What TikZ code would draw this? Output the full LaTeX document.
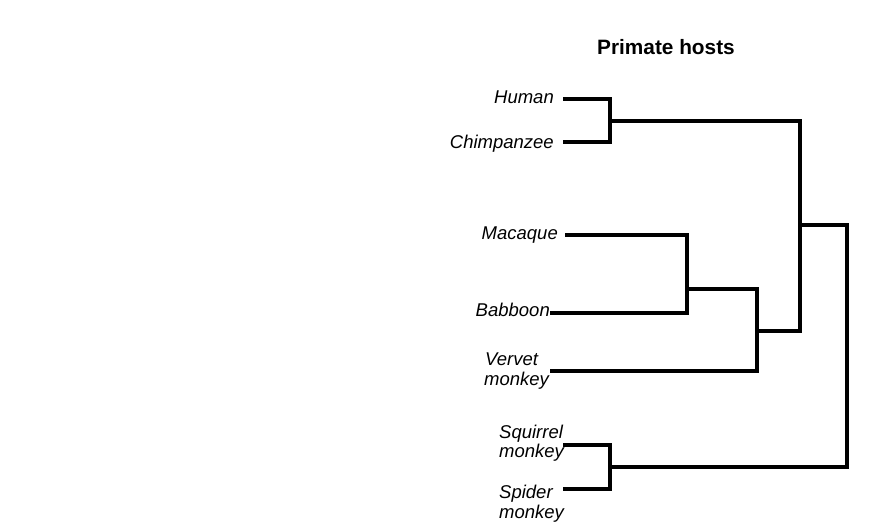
\documentclass[tikz,border=0pt]{standalone}
\usepackage{fontspec}
\setmainfont{Liberation Sans}
\begin{document}
\begin{tikzpicture}[x=1pt,y=-1pt,
  leaf/.style={inner sep=0pt,font=\fontsize{18.5}{21}\selectfont\itshape},
  title/.style={inner sep=0pt,font=\fontsize{20.8}{24}\selectfont\bfseries},
  branch/.style={line width=4.5pt,line join=miter,line cap=butt}]
\useasboundingbox (0,0) rectangle (882,530);
\node[title,anchor=base] (title) at (666,54) {Primate hosts};
% leaf labels
\node[leaf,anchor=base east] (human) at (554,103) {Human};
\node[leaf,anchor=base east] (chimp) at (554,148) {Chimpanzee};
\node[leaf,anchor=base east] (macaque) at (558,239) {Macaque};
\node[leaf,anchor=base east] (baboon) at (550,316) {Babboon};
\node[leaf,anchor=base west] (vervet) at (485,365) {Vervet};
\node[leaf,anchor=base west] (vervet2) at (484,385) {monkey};
\node[leaf,anchor=base west] (squirrel) at (499,438) {Squirrel};
\node[leaf,anchor=base west] (squirrel2) at (499,457) {monkey};
\node[leaf,anchor=base west] (spider) at (499,498) {Spider};
\node[leaf,anchor=base west] (spider2) at (499,518) {monkey};
% tips
\coordinate (tHuman) at (563,99);
\coordinate (tChimp) at (563,142);
\coordinate (tMac) at (565,235);
\coordinate (tBab) at (550,313);
\coordinate (tVer) at (550,371);
\coordinate (tSqu) at (563,445);
\coordinate (tSpi) at (563,489);
% internal nodes
\coordinate (nHC) at (610,121);
\coordinate (nMB) at (687,289);
\coordinate (nMBV) at (757,331);
\coordinate (nOW) at (800,225);
\coordinate (nNW) at (610,467);
\coordinate (root) at (847,346);
% branches
\draw[branch] (tHuman) -- (tHuman -| nHC) -- (tChimp -| nHC) -- (tChimp);
\draw[branch] (tMac) -- (tMac -| nMB) -- (tBab -| nMB) -- (tBab);
\draw[branch] (nMB) -- (nMB -| nMBV) -- (tVer -| nMBV) -- (tVer);
\draw[branch] (nHC) -- (nHC -| nOW) -- (nMBV -| nOW) -- (nMBV);
\draw[branch] (tSqu) -- (tSqu -| nNW) -- (tSpi -| nNW) -- (tSpi);
\draw[branch] (nOW) -- (nOW -| root) -- (nNW -| root) -- (nNW);
\end{tikzpicture}
\end{document}
